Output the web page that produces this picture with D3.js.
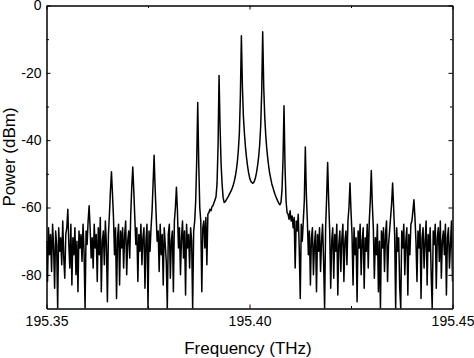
<!DOCTYPE html>
<html><head><meta charset="utf-8">
<script src="https://cdn.jsdelivr.net/npm/d3@7"></script>
<style>html,body{margin:0;padding:0;background:#fff;} svg{display:block;}</style>
</head><body><svg id="chart" width="474" height="358"></svg>
<script>
// OSA sweep grid
const sweepStart = 195.35;   // THz
const sweepStep = 0.00025;   // THz per sample

// Power (dBm), sample by sample
const powerLeft = [
-70,-82,-66,-74,-68,-79,-65,-72,-84,-67,
-71,-90,-66,-73,-69,-77,-64,-75,-81,-68,
-66,-60.5,-71,-78,-65,-83,-69,-74,-66,-80,
-70,-85,-67,-72,-68,-76,-65,-73,-90,-67,
-71,-64,-59.5,-66,-75,-69,-78,-65,-72,-68,
-82,-66,-74,-63,-85,-70,-67,-77,-64,-71,
-88,-68,-62,-55,-49.4,-56,-63,-74,-66,-87,
-69,-65,-83,-67,-72,-66,-78,-68,-64,-80,
-70,-67,-75,-62,-54,-48,-55,-63,-71,-66,
-82,-68,-73,-65,-77,-69,-66,-84,-70,-65,
-90,-67,-73,-66,-61,-53,-44.5,-54,-62,-70,
-67,-79,-65,-74,-68,-83,-66,-71,-76,-90,
-68,-65,-81,-70,-67,-85,-64,-60,-54,-61,
-72,-66,-80,-69,-64,-75,-67,-86,-65,-72,
-68,-78,-66,-70,-90,-67,-64
];
const powerCenter = [
-58,-46,-28.8,
-47,-60,-64,-85,-66,-64,-72,-63,-77,-62,
-61.5,-60.5,-61,-59.8,-59.5,-58.6,-57.8,-56.8,-53,-42,
-20.8,
-36,-47,-53,-57,-58.5,-58.3,-57.8,-57.3,-56.8,
-56.2,-55.6,-55,-54.2,-53.3,-52.2,-50.8,-49,-46.5,-43,
-38,-27,
-9,
-24,-33,-38,-42,-45,-47.5,-49.5,
-51,-52,-52.5,-52.8,-52.6,-52,-51,-49.5,-47.5,-45,
-41.5,-36,-26,
-7.8,
-24,-33,-38.5,-42.5,-45.5,-48,
-50,-51.5,-53,-54,-55,-56,-56.8,-57.5,-58.2,-58.8,
-59.2,-58.5,-55,-46,
-29.8,
-48,-58,-61.5,
-62,-63.5,-61,-64,-62.5,-66,-63,-78,-64,-67,-62,-72,-87
];
const powerRight = [
-65,-70,-64,-58,-42,-56,-64,-74,-67,
-83,-69,-66,-80,-71,-67,-85,-68,-73,-66,
-79,-70,-65,-76,-90,-66,-57,-46.6,-58,-67,
-84,-70,-66,-81,-68,-73,-65,-86,-71,-67,
-79,-69,-65,-82,-70,-67,-77,-64,-60,-52.7,
-61,-68,-83,-66,-74,-69,-88,-67,-72,-65,
-80,-70,-66,-84,-69,-73,-65,-78,-64,-58,
-49,-59,-66,-81,-69,-74,-65,-85,-70,-90,
-67,-72,-66,-79,-68,-64,-82,-71,-67,-63,
-59,-52.7,-60,-68,-90,-66,-73,-69,-84,-90,
-67,-72,-65,-80,-70,-66,-86,-68,-74,-65,
-64,-61,-57.7,-63,-70,-82,-67,-72,-65,-87,
-69,-66,-78,-70,-64,-83,-68,-73,-66,-80,
-90,-67,-71,-65,-84,-69,-66,-76,-64,-81,
-70,-67,-74,-65,-86,-69,-66,-78,-71,-64,
-82
];

const xDomain = [195.35, 195.45];
const yDomain = [-90, 0];
const xTicks = [195.35, 195.40, 195.45];
const xMinorTicks = [195.375, 195.425];
const yTicks = [0, -20, -40, -60, -80];
const yMinorTicks = [-10, -30, -50, -70];

const power = powerLeft.concat(powerCenter, powerRight);
const data = power.map((p, i) => ({ f: sweepStart + i * sweepStep, p }));

const FONT = '"Liberation Sans", Arial, sans-serif';
const svg = d3.select('#chart');
const L = 46.5, R = 452.5, T = 5.5, B = 308.5;
const x = d3.scaleLinear().domain(xDomain).range([L, R]);
const y = d3.scaleLinear().domain(yDomain).range([B, T]);

svg.append('clipPath').attr('id', 'clip').append('rect')
  .attr('x', L).attr('y', T).attr('width', R - L).attr('height', B - T);

svg.append('path').datum(data)
  .attr('clip-path', 'url(#clip)')
  .attr('fill', 'none').attr('stroke', '#000')
  .attr('stroke-width', 1.5).attr('stroke-linejoin', 'round')
  .attr('d', d3.line().x(d => x(d.f)).y(d => y(d.p)));

function styleAxis(g, showDomain) {
  g.attr('font-family', FONT).attr('font-size', 14);
  if (showDomain) g.select('path.domain').attr('stroke', '#000').attr('stroke-width', 1.5);
  else g.select('path.domain').remove();
  g.selectAll('.tick line').attr('stroke', '#000').attr('stroke-width', 1);
  g.selectAll('.tick text').attr('fill', '#000');
}

// bottom
svg.append('g').attr('transform', `translate(0,${B})`)
  .call(d3.axisBottom(x).tickValues(xTicks).tickFormat(d3.format('.2f'))
    .tickSizeInner(-4).tickSizeOuter(0).tickPadding(7.5))
  .call(g => styleAxis(g, true));
svg.append('g').attr('transform', `translate(0,${B})`)
  .call(d3.axisBottom(x).tickValues(xMinorTicks).tickFormat('')
    .tickSizeInner(-2.5).tickSizeOuter(0))
  .call(g => styleAxis(g, false));
// top
svg.append('g').attr('transform', `translate(0,${T})`)
  .call(d3.axisTop(x).tickValues(xTicks).tickFormat('')
    .tickSizeInner(-4).tickSizeOuter(0))
  .call(g => styleAxis(g, true));
svg.append('g').attr('transform', `translate(0,${T})`)
  .call(d3.axisTop(x).tickValues(xMinorTicks).tickFormat('')
    .tickSizeInner(-2.5).tickSizeOuter(0))
  .call(g => styleAxis(g, false));
// left
svg.append('g').attr('transform', `translate(${L},0)`)
  .call(d3.axisLeft(y).tickValues(yTicks).tickFormat(d => String(d))
    .tickSizeInner(-4).tickSizeOuter(0).tickPadding(5))
  .call(g => styleAxis(g, true));
svg.append('g').attr('transform', `translate(${L},0)`)
  .call(d3.axisLeft(y).tickValues(yMinorTicks).tickFormat('')
    .tickSizeInner(-2.5).tickSizeOuter(0))
  .call(g => styleAxis(g, false));
// right
svg.append('g').attr('transform', `translate(${R},0)`)
  .call(d3.axisRight(y).tickValues(yTicks).tickFormat('')
    .tickSizeInner(-4).tickSizeOuter(0))
  .call(g => styleAxis(g, true));
svg.append('g').attr('transform', `translate(${R},0)`)
  .call(d3.axisRight(y).tickValues(yMinorTicks).tickFormat('')
    .tickSizeInner(-2.5).tickSizeOuter(0))
  .call(g => styleAxis(g, false));

// titles
svg.append('text').attr('x', 248).attr('y', 353.5)
  .attr('text-anchor', 'middle').attr('font-family', FONT).attr('font-size', 17)
  .attr('fill', '#000').text('Frequency (THz)');
svg.append('text').attr('transform', 'translate(14.5,157) rotate(-90)')
  .attr('text-anchor', 'middle').attr('font-family', FONT).attr('font-size', 17)
  .attr('fill', '#000').text('Power (dBm)');
</script>
</body></html>
